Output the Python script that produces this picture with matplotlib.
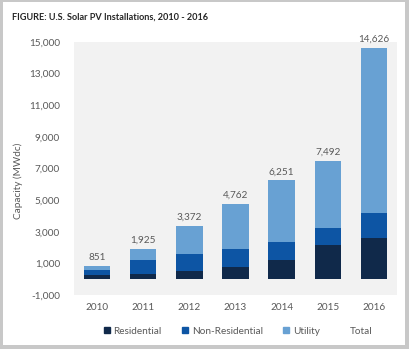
import matplotlib.pyplot as plt
from matplotlib.patches import Rectangle, Patch

years = ['2010', '2011', '2012', '2013', '2014', '2015', '2016']
residential = [264, 300, 494, 792, 1231, 2150, 2583]
non_residential = [342, 890, 1079, 1112, 1118, 1065, 1586]
utility = [245, 735, 1799, 2858, 3902, 4277, 10457]
totals = [851, 1925, 3372, 4762, 6251, 7492, 14626]
y_ticks = [-1000, 1000, 3000, 5000, 7000, 9000, 11000, 13000, 15000]

c_res = '#10294a'
c_non = '#0d55a4'
c_uti = '#68a1d3'
grey = '#595959'

plt.rcParams['font.family'] = ['Lato', 'DejaVu Sans']

fig = plt.figure(figsize=(4.10, 3.49), dpi=100)
ax = fig.add_axes([74 / 410, 1 - 295 / 349, 323 / 410, 253 / 349])
ax.set_facecolor('#f2f2f2')

x = range(len(years))
w = 0.57
ax.bar(x, residential, w, color=c_res, label='Residential')
bottom2 = [r for r in residential]
ax.bar(x, non_residential, w, bottom=bottom2, color=c_non, label='Non-Residential')
bottom3 = [r + n for r, n in zip(residential, non_residential)]
ax.bar(x, utility, w, bottom=bottom3, color=c_uti, label='Utility')

for i, t in enumerate(totals):
    ax.text(i, t + 250, f'{t:,}', ha='center', va='bottom', fontsize=7.2, color=grey)

ax.set_xlim(-0.5, 6.5)
ax.set_ylim(-1000, 15000)
ax.set_yticks(y_ticks)
ax.set_yticklabels([f'{v:,}' for v in y_ticks])
ax.set_xticks(list(x))
ax.set_xticklabels(years)
ax.tick_params(length=0, labelsize=7.2, colors=grey)
ax.tick_params(axis='y', pad=10)
ax.tick_params(axis='x', pad=6)
for s in ax.spines.values():
    s.set_visible(False)

ax.set_ylabel('Capacity (MWdc)', fontsize=7.2, color=grey)
ax.yaxis.set_label_coords(-0.158, (295 - 181) / 253)

handles = [Patch(color=c_res), Patch(color=c_non), Patch(color=c_uti),
           Patch(color='none')]
fig.legend(handles, ['Residential', 'Non-Residential', 'Utility', 'Total'],
           loc='center', bbox_to_anchor=(238 / 410, 1 - 331 / 349), ncol=4,
           frameon=False, fontsize=7.2, labelcolor=grey,
           handlelength=0.6, handleheight=0.6, handletextpad=0.4,
           columnspacing=2.0)

fig.text(12 / 410, 1 - 17 / 349, 'FIGURE: U.S. Solar PV Installations, 2010 - 2016',
         fontsize=6.6, fontweight='bold', color='#262626', va='center', ha='left')

# outer frame: left, right, bottom, top strips
frame = '#c8c8c8'
for (fx, fy, fw, fh) in [(0, 0, 3, 349), (405, 0, 5, 349), (0, 0, 410, 4), (0, 347, 410, 2)]:
    fig.patches.append(Rectangle((fx / 410, fy / 349), fw / 410, fh / 349,
                                 transform=fig.transFigure, color=frame, lw=0))

fig.savefig('out.png', dpi=100)
